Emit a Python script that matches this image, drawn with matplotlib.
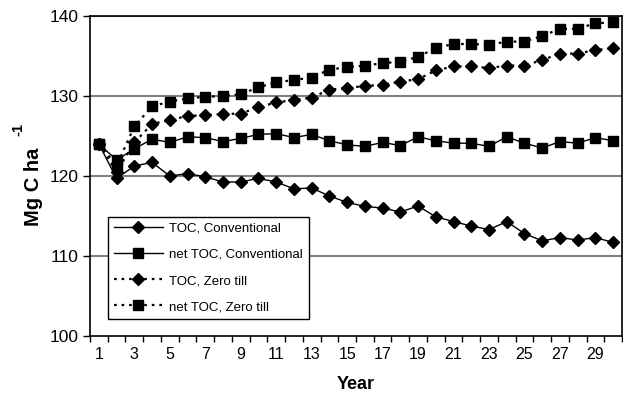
import matplotlib
matplotlib.use("Agg")
import matplotlib.pyplot as plt
from matplotlib.ticker import FixedLocator

plt.rcParams['font.family'] = ['Liberation Sans', 'DejaVu Sans']

years = list(range(1, 31))
toc_conv = [124.0, 119.7, 121.25, 121.7, 120.0, 120.3, 119.9, 119.25, 119.25, 119.7,
            119.25, 118.4, 118.5, 117.5, 116.7, 116.2, 116.0, 115.5, 116.25, 114.9,
            114.3, 113.75, 113.3, 114.3, 112.8, 111.9, 112.3, 112.0, 112.3, 111.7]
net_toc_conv = [124.0, 122.0, 123.4, 124.6, 124.2, 124.9, 124.8, 124.3, 124.7, 125.2,
                125.3, 124.8, 125.2, 124.4, 123.9, 123.7, 124.2, 123.8, 124.9, 124.4,
                124.1, 124.1, 123.7, 124.9, 124.1, 123.5, 124.3, 124.1, 124.8, 124.4]
toc_zt = [124.0, 120.5, 124.2, 126.5, 127.0, 127.5, 127.6, 127.75, 127.8, 128.6,
          129.2, 129.5, 129.8, 130.8, 131.0, 131.25, 131.4, 131.8, 132.1, 133.2,
          133.7, 133.7, 133.5, 133.8, 133.8, 134.5, 135.3, 135.3, 135.75, 135.96]
net_toc_zt = [124.0, 121.3, 126.2, 128.7, 129.3, 129.7, 129.9, 130.0, 130.2, 131.1,
              131.7, 132.0, 132.3, 133.3, 133.6, 133.8, 134.1, 134.3, 134.9, 136.0,
              136.5, 136.5, 136.4, 136.8, 136.8, 137.5, 138.4, 138.4, 139.1, 139.2]
series_labels = ["TOC, Conventional", "net TOC, Conventional", "TOC, Zero till", "net TOC, Zero till"]
yticks = [100, 110, 120, 130, 140]
xtick_labels = list(range(1, 31, 2))

fig = plt.figure(figsize=(6.23, 3.97), dpi=100)
ax = fig.add_axes([90/623, 1-336/397, 532/623, 320/397])

for y in [110, 120, 130, 140]:
    ax.axhline(y, color='#808080', lw=1.5, zorder=0)

dot = (0, (1.2, 2.2))
ax.plot(years, toc_conv, color='black', lw=1, marker='D', ms=6.5, label=series_labels[0])
ax.plot(years, net_toc_conv, color='black', lw=1, marker='s', ms=6.5, label=series_labels[1])
ax.plot(years, toc_zt, color='black', lw=1.6, ls=dot, marker='D', ms=6.5, label=series_labels[2])
ax.plot(years, net_toc_zt, color='black', lw=1.6, ls=dot, marker='s', ms=6.5, label=series_labels[3])

ax.set_xlim(0.5, 30.5)
ax.set_ylim(100, 140)
ax.set_yticks(yticks)
ax.set_xticks(xtick_labels)
ax.xaxis.set_minor_locator(FixedLocator([i + 0.5 for i in range(0, 31)]))
ax.tick_params(axis='x', which='major', length=0, labelsize=11.5, pad=8)
ax.tick_params(axis='x', which='minor', length=4, width=1, direction='out')
ax.tick_params(axis='y', which='major', length=5, width=1, labelsize=12.5, pad=3)

for s in ax.spines.values():
    s.set_color('black')
    s.set_linewidth(1.2)

ax.set_xlabel("Year", fontsize=13, fontweight='bold', labelpad=10)
ax.set_ylabel("Mg C ha", fontsize=14.5, fontweight='bold')
ax.yaxis.set_label_coords(-0.088, 0.466)
ax.text(-0.134, 0.644, "-1", transform=ax.transAxes, rotation=90, fontsize=10.5,
        fontweight='bold', ha='center', va='center')

leg = ax.legend(loc='lower left', bbox_to_anchor=(0.034, 0.053), fontsize=9.5,
                frameon=True, fancybox=False, edgecolor='black', framealpha=1,
                handlelength=3.7, borderpad=0.45, labelspacing=1.05, handletextpad=0.5,
                borderaxespad=0)
leg.get_frame().set_linewidth(1)

fig.savefig("out.png", dpi=100)
